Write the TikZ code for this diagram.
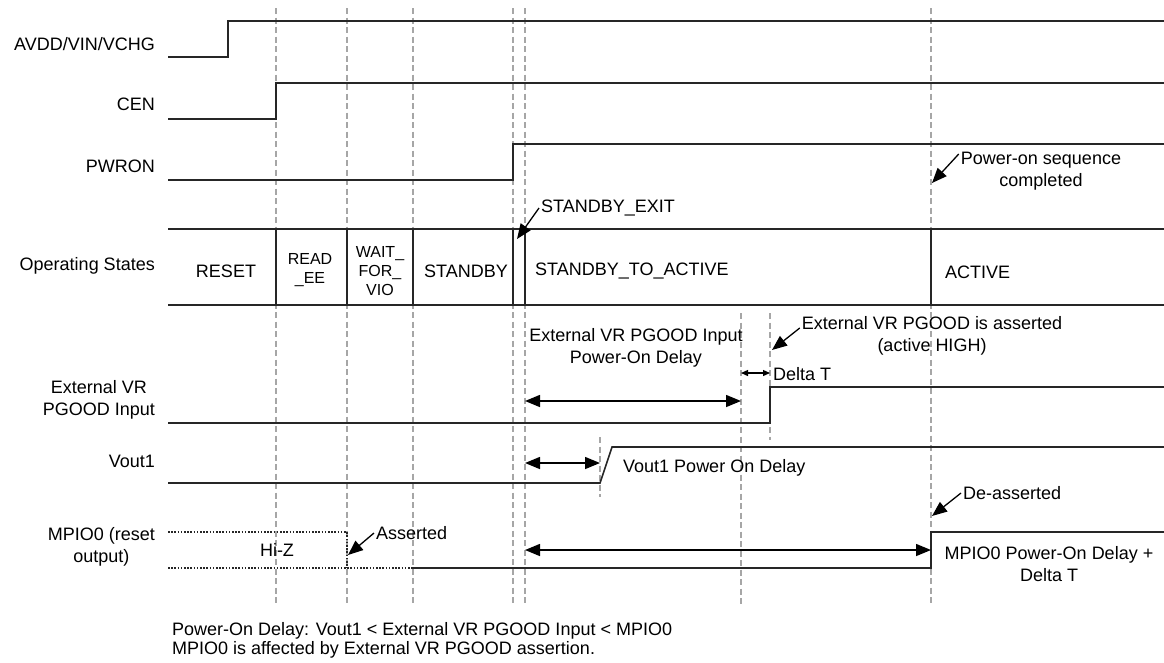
\documentclass[tikz,border=0pt]{standalone}
\usepackage{fontspec}
\setmainfont{Liberation Sans}
\usetikzlibrary{arrows.meta,positioning}

\begin{document}
\begin{tikzpicture}[
  x=1pt, y=-1pt,
  font=\fontsize{18}{22.5}\selectfont,
  >={Triangle[length=15pt,width=12pt]},
  wave/.style={line width=1.6pt, black!85},
  hiz/.style={line width=1.6pt, black!85, dash pattern=on 1.6pt off 1.6pt},
  guide/.style={line width=1.8pt, black!35, dash pattern=on 6pt off 3.5pt},
  sig/.style={anchor=east, align=center, inner sep=0pt},
  note/.style={align=center, inner sep=2pt},
  statebox/.style={font=\fontsize{16}{19}\selectfont, align=center},
  pointer/.style={->, line width=1.3pt},
  delayspan/.style={<->, line width=1.5pt},
  gapspan/.style={{Triangle[length=7pt,width=6pt]}-{Triangle[length=7pt,width=6pt]}, line width=1.3pt}
]
\useasboundingbox (0,0) rectangle (1164,662);

% ── Guide lines (state boundaries) ─────────────────────────────────────────
\foreach \gx in {276,347,413,513,525,931}
  \draw[guide] (\gx,8) -- (\gx,604);
\draw[guide] (741,313) -- (741,604);
\draw[guide] (770,313) -- (770,440);
\draw[guide] (600,437) -- (600,497);

% ── Signal names ───────────────────────────────────────────────────────────
\node[sig] (avdd)  at (155,44)  {AVDD/VIN/VCHG};
\node[sig] (cen)   at (155,104) {CEN};
\node[sig] (pwron) at (155,166) {PWRON};
\node[sig] (opst)  at (155,266) {Operating States};
\node[sig] (pgood) at (155,400) {External VR\\PGOOD Input};
\node[sig] (vout)  at (155,461) {Vout1};
\node[sig] (mpio)  at (155,547) {MPIO0 (reset\\output)};

% ── Supplies and enables ───────────────────────────────────────────────────
\draw[wave] (168,57)  -- (228,57)  -- (228,21)  -- (1164,21);
\draw[wave] (168,119) -- (276,119) -- (276,83)  -- (1164,83);
\draw[wave] (168,180) -- (513,180) -- (513,144) -- (1164,144);

% ── Operating states row ───────────────────────────────────────────────────
\draw[wave] (168,229) -- (1164,229);
\draw[wave] (168,305) -- (1164,305);
\foreach \sx in {276,347,413,513,525,931}
  \draw[wave] (\sx,229) -- (\sx,305);

\node (sreset) at (226,271) {RESET};
\node[statebox] (sread) at (310,270) {READ\\\_EE};
\node[statebox] (swait) at (380,271) {WAIT\_\\FOR\_\\VIO};
\node (sstby) at (466,271) {STANDBY};
\node[anchor=west, inner sep=0pt] (stoact) at (535,271) {STANDBY\_TO\_ACTIVE};
\node[anchor=west, inner sep=0pt] (sact)   at (945,272) {ACTIVE};

\node[note, anchor=west] (exitlbl) at (539,208) {STANDBY\_EXIT};
\coordinate (exittip) at (517,239);
\draw[pointer] (exitlbl.west) -- (exittip);

\node[note] (donelbl) at (1041,171) {Power-on sequence\\completed};
\coordinate (donetip) at (932,183);
\draw[pointer] ([yshift=17pt]donelbl.west) -- (donetip);

% ── External VR PGOOD ──────────────────────────────────────────────────────
\draw[wave] (168,423) -- (770,423) -- (770,387) -- (1164,387);

\node[note] (pgdlbl) at (636,348) {External VR PGOOD Input\\Power-On Delay};
\coordinate (pgdA) at (525,401);
\coordinate (pgdB) at (741,401);
\draw[delayspan] (pgdA) -- (pgdB);

\coordinate (dtA) at (741,373);
\coordinate (dtB) at (770,373);
\draw[gapspan] (dtA) -- (dtB);
\node[note, anchor=west] (dtlbl) at (771,374) {Delta T};

\node[note] (asslbl) at (932,336) {External VR PGOOD is asserted\\(active HIGH)};
\coordinate (asstip) at (772,350);
\draw[pointer] ([yshift=8pt]asslbl.west) -- (asstip);

% ── Vout1 ──────────────────────────────────────────────────────────────────
\draw[wave] (168,483) -- (600,483) -- (612,447) -- (1164,447);

\coordinate (vdA) at (525,463);
\coordinate (vdB) at (600,463);
\draw[delayspan] (vdA) -- (vdB);
\node[note, anchor=west] (vdlbl) at (621,468) {Vout1 Power On Delay};

% ── MPIO0 ──────────────────────────────────────────────────────────────────
\draw[hiz] (168,532) -- (347,532) -- (347,568);
\draw[hiz] (168,568) -- (413,568);
\draw[wave] (413,568) -- (931,568) -- (931,532) -- (1164,532);

\node[note] (hizlbl) at (277,550) {Hi-Z};
\node[note, anchor=west] (asrtlbl) at (374,533) {Asserted};
\coordinate (asrttip) at (348,555);
\draw[pointer] (asrtlbl.west) -- (asrttip);

\coordinate (mdA) at (525,550);
\coordinate (mdB) at (931,550);
\draw[delayspan] (mdA) -- (mdB);
\node[note] (mdlbl) at (1049,564) {MPIO0 Power-On Delay +\\Delta T};

\node[note, anchor=west] (delbl) at (961,493) {De-asserted};
\coordinate (deltip) at (932,516);
\draw[pointer] (delbl.west) -- (deltip);

% ── Footnote ───────────────────────────────────────────────────────────────
\node[note, anchor=west, align=left, font=\fontsize{18}{19}\selectfont]
  (footlbl) at (170,640)
  {Power-On Delay: Vout1 < External VR PGOOD Input < MPIO0\\MPIO0 is affected by External VR PGOOD assertion.};

\end{tikzpicture}
\end{document}
